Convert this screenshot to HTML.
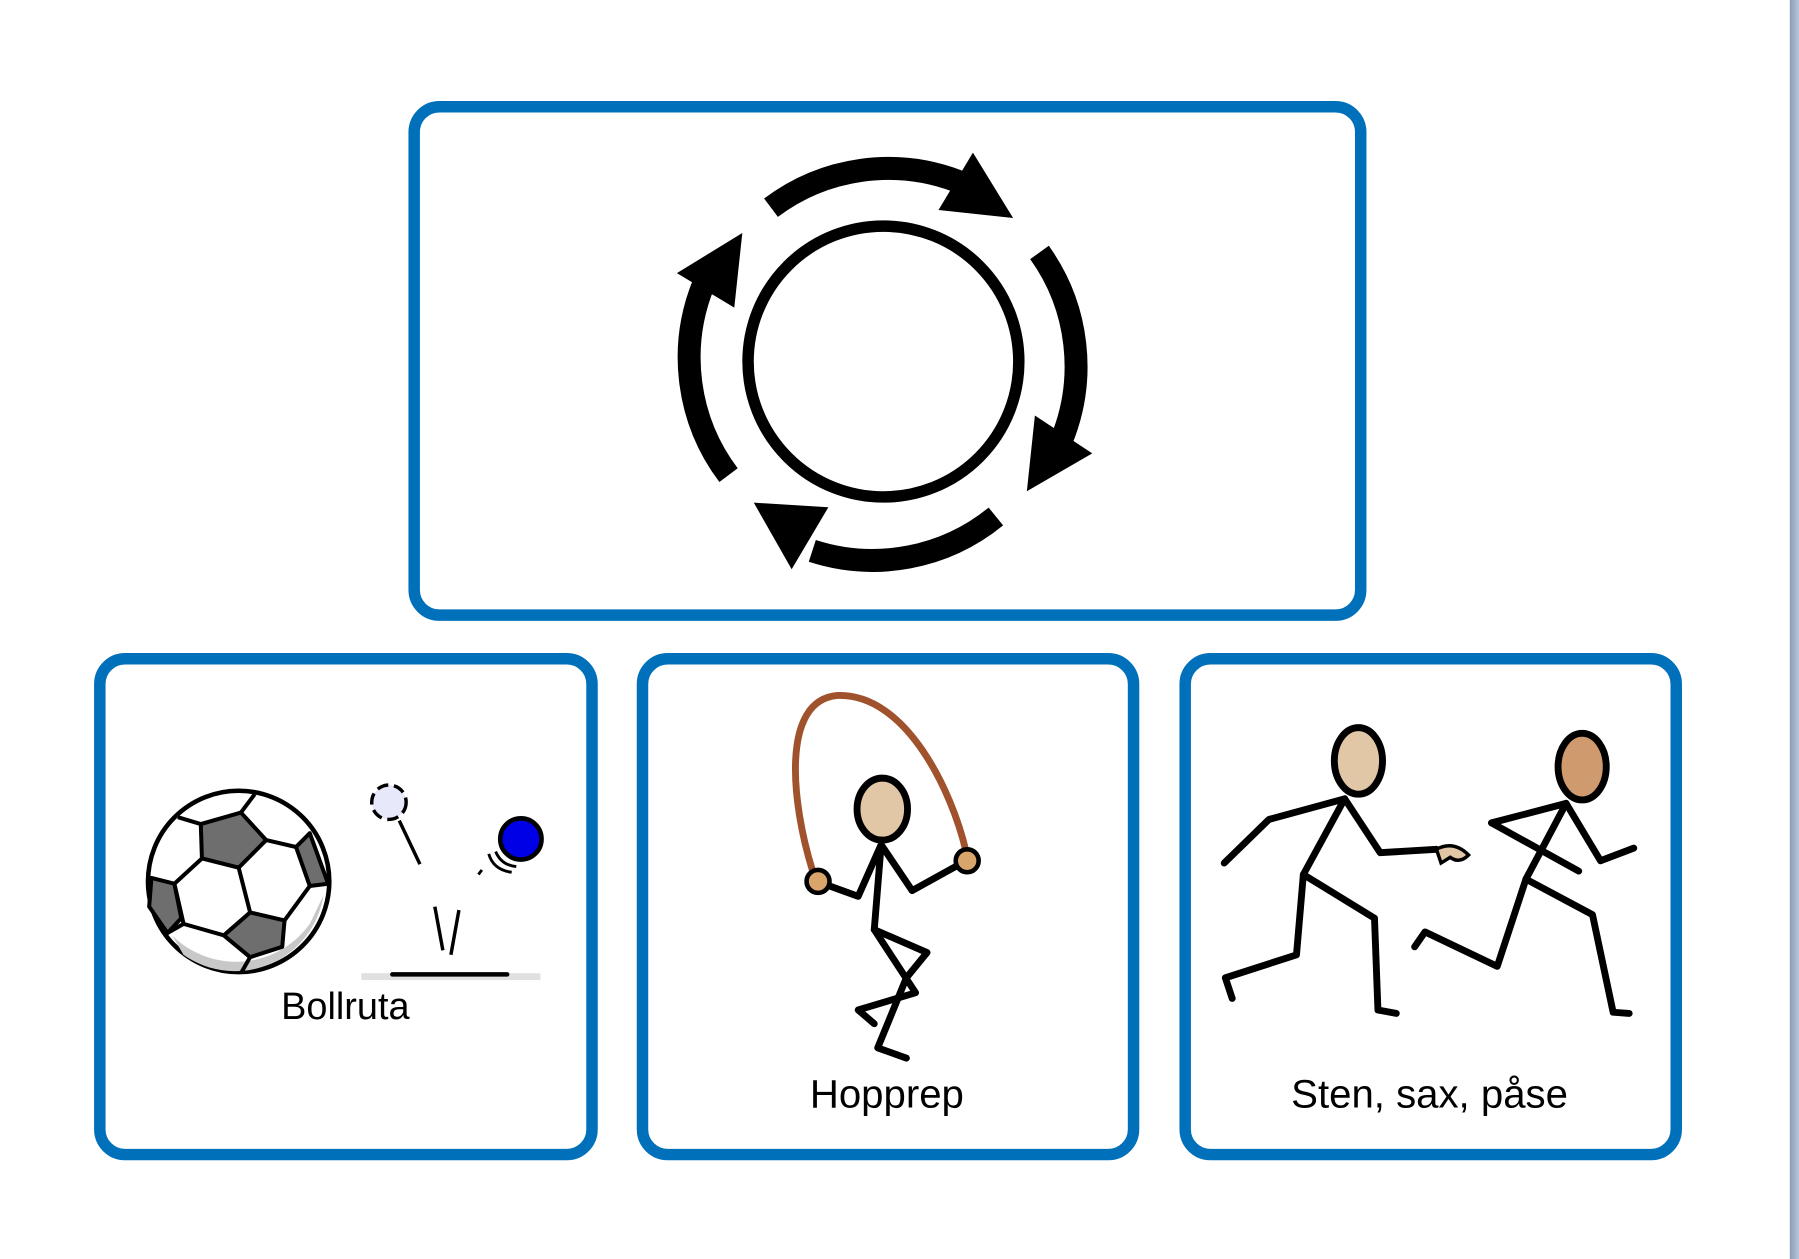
<!DOCTYPE html>
<html><head><meta charset="utf-8"><style>
html,body{margin:0;padding:0;background:#fff;width:1799px;height:1259px;overflow:hidden}
svg{display:block}
text{font-family:"Liberation Sans",sans-serif}
</style></head><body>
<svg width="1799" height="1259" viewBox="0 0 1568 1097" preserveAspectRatio="none" xmlns="http://www.w3.org/2000/svg">
<defs><linearGradient id="g" x1="0" x2="1"><stop offset="0" stop-color="#8a9bb3"/><stop offset="1" stop-color="#b7c7dc"/></linearGradient></defs>
<rect x="1560" y="0" width="8" height="1097" fill="url(#g)"/>
<g fill="none" stroke="#0070bb" stroke-width="10">
<rect x="361" y="93" width="825" height="443" rx="22"/>
<rect x="87" y="574" width="429" height="432" rx="22"/>
<rect x="560" y="574" width="428" height="432" rx="22"/>
<rect x="1033" y="574" width="428" height="432" rx="22"/>
</g>
<!-- cycle -->
<circle cx="770" cy="315" r="118" fill="none" stroke="#000" stroke-width="10"/>
<g fill="none" stroke="#000" stroke-width="20" stroke-linecap="butt">
<path d="M672 181 A170 170 0 0 1 835 158"/>
<path d="M906 220 A170 170 0 0 1 925 384"/>
<path d="M868 450 A170 170 0 0 1 708 480"/>
<path d="M635 414 A170 170 0 0 1 613 248"/>
</g>
<g fill="#000">
<polygon points="848,133 883,190 818,183"/>
<polygon points="902,362 952,395 895,428"/>
<polygon points="722,442 690,496 657,438"/>
<polygon points="640,268 647,203 590,238"/>
</g>
<!-- soccer ball -->
<circle cx="208" cy="768" r="79" fill="#fff" stroke="#000" stroke-width="4"/>
<path d="M150,815 A79 79 0 0 0 270 805 L282 780 A78 78 0 0 1 160 832Z" fill="#c8c8c8"/>
<g stroke="#000" stroke-width="3.5" fill="#6e6e6e" stroke-linejoin="round">
<polygon points="175,718 210,708 232,732 208,756 176,748"/>
<polygon points="218,795 248,802 246,825 218,834 195,815"/>
<polygon points="258,738 270,726 286,770 270,772"/>
<polygon points="132,765 152,770 158,800 146,813 130,790"/>
<polygon points="176,748 208,756 218,795 195,815 160,805 152,770" fill="#fff"/>
<polyline points="175,718 155,712" fill="none"/><polyline points="210,708 222,692" fill="none"/>
<polyline points="232,732 258,738" fill="none"/><polyline points="248,802 270,772" fill="none"/>
<polyline points="218,834 210,848" fill="none"/><polyline points="146,813 160,805" fill="none"/>
</g>
<circle cx="339" cy="699" r="15" fill="#e8e8fb" stroke="#000" stroke-width="3" stroke-dasharray="10 5"/>
<line x1="348" y1="715" x2="366" y2="753" stroke="#000" stroke-width="3"/>
<circle cx="454" cy="731" r="18" fill="#0000e6" stroke="#000" stroke-width="4"/>
<g fill="none" stroke="#000" stroke-width="2.5"><path d="M432 742 q5 12 18 13"/><path d="M426 744 q4 14 20 16"/><path d="M420 758 l-3 4"/></g>
<line x1="379" y1="790" x2="386" y2="828" stroke="#000" stroke-width="3"/>
<line x1="400" y1="793" x2="393" y2="832" stroke="#000" stroke-width="3"/>
<rect x="315" y="848" width="156" height="6" fill="#e0e0e0"/>
<line x1="342" y1="849" x2="442" y2="849" stroke="#000" stroke-width="4" stroke-linecap="round"/>
<text x="301" y="888" font-size="33" text-anchor="middle">Bollruta</text>
<!-- jump rope -->
<path d="M708 758 C690 700 680 610 730 606 C790 604 830 690 842 742" fill="none" stroke="#a0522d" stroke-width="6"/>
<g stroke="#000" stroke-width="6" fill="none" stroke-linecap="round" stroke-linejoin="round">
<polyline points="712,768 748,781 768,736 795,776 842,750"/>
<polyline points="768,736 762,810 808,830 790,852 765,913 790,922"/>
<polyline points="762,810 798,865 748,880 762,892"/>
</g>
<ellipse cx="769" cy="705" rx="22" ry="27" fill="#e1c7a5" stroke="#000" stroke-width="6"/>
<circle cx="713" cy="768" r="10" fill="#d9a56b" stroke="#000" stroke-width="4"/>
<circle cx="843" cy="750" r="10" fill="#d9a56b" stroke="#000" stroke-width="4"/>
<text x="773" y="965" font-size="35" text-anchor="middle">Hopprep</text>
<!-- runners -->
<g stroke="#000" stroke-width="6" fill="none" stroke-linecap="round" stroke-linejoin="round">
<polyline points="1067,752 1106,714 1172,696 1203,743 1252,740"/>
<polyline points="1172,696 1136,762 1130,832 1068,852 1074,870"/>
<polyline points="1136,762 1198,800 1201,880 1217,883"/>
<polyline points="1300,717 1365,700 1395,750 1424,739"/>
<polyline points="1300,717 1376,759"/>
<polyline points="1365,700 1330,766 1305,842 1242,812 1233,825"/>
<polyline points="1330,766 1388,797 1406,882 1420,883"/>
</g>
<path d="M1252 740 q15 -8 28 5 q-8 8 -16 2 l-8 5z" fill="#e1c7a5" stroke="#000" stroke-width="3"/>
<ellipse cx="1184" cy="663" rx="21" ry="29" fill="#e1c7a5" stroke="#000" stroke-width="6"/>
<ellipse cx="1379" cy="668" rx="21" ry="29" fill="#d09a6f" stroke="#000" stroke-width="6"/>
<text x="1246" y="965" font-size="35" text-anchor="middle">Sten, sax, påse</text>
</svg>
</body></html>
